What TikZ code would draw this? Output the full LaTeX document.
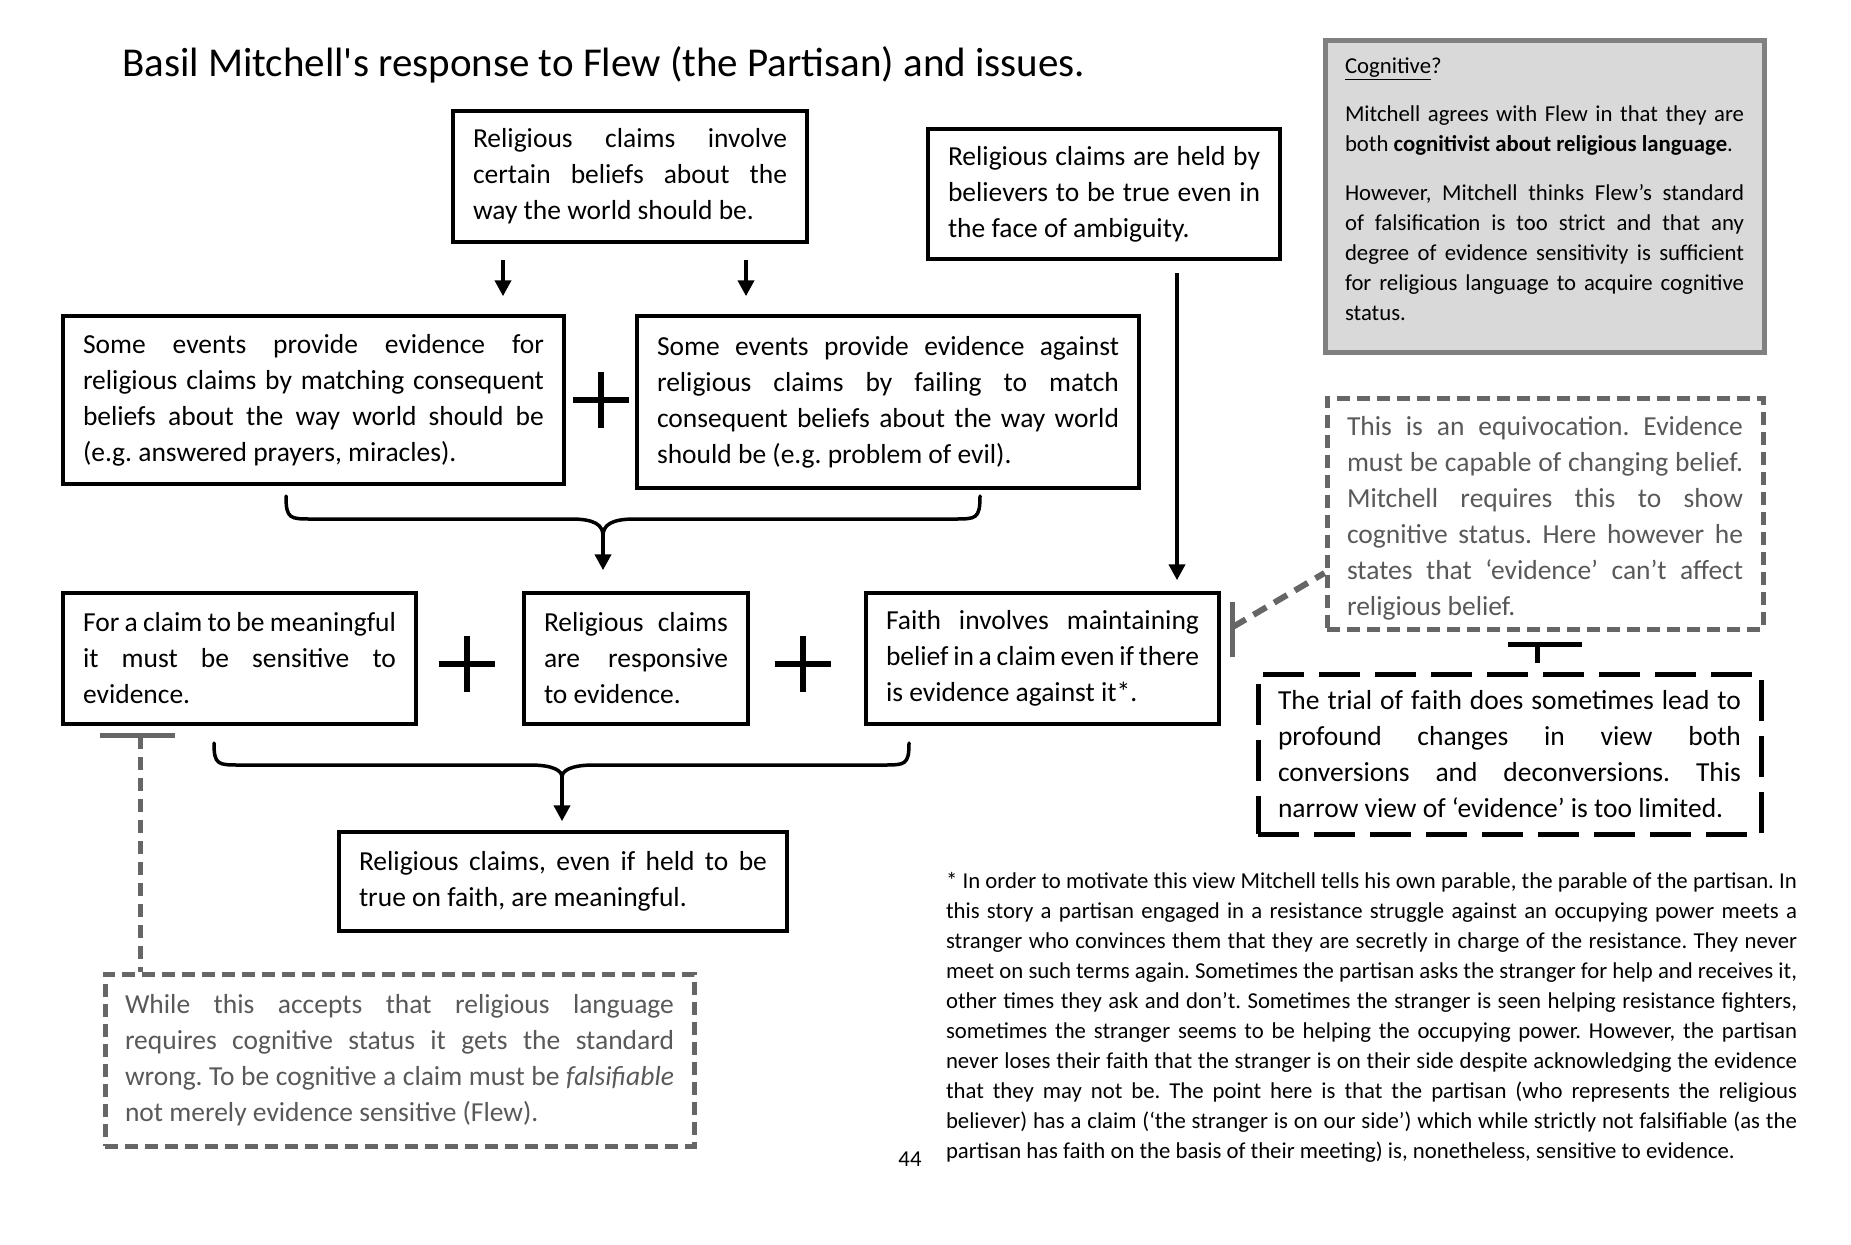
\documentclass[tikz,border=0pt]{standalone}
\usepackage{fontspec}
\setmainfont{Carlito}
\newfontfamily\titlefont{Carlito}[Ligatures=TeXOff]
\usetikzlibrary{arrows.meta}
\definecolor{gtxt}{HTML}{595959}
\definecolor{gline}{HTML}{666666}
\definecolor{cogfill}{HTML}{D9D9D9}
\definecolor{cogline}{HTML}{808080}
\newcommand{\NS}{\spaceskip=0pt\xspaceskip=0pt\relax}
\newcommand{\J}[1]{\leavevmode\hbox to \hsize{\NS#1}}
\newcommand{\boxfont}{\fontsize{27.5}{36}\selectfont}
\newcommand{\smallfnt}{\fontsize{22.75}{30}\selectfont}
\frenchspacing
\tikzset{
  box/.style={draw=black, line width=3.5pt, inner xsep=20pt, inner ysep=0pt, align=left, font=\boxfont},
  gbox/.style={draw=gline, line width=5pt, dash pattern=on 13pt off 7pt, inner xsep=20pt, inner ysep=0pt, align=left, font=\boxfont, text=gtxt},
  tbox/.style={draw=black, line width=5pt, dash pattern=on 41pt off 15pt, inner xsep=20pt, inner ysep=0pt, align=left, font=\boxfont},
  cogbox/.style={draw=cogline, fill=cogfill, line width=5pt, inner xsep=20pt, inner ysep=0pt, align=left, font=\smallfnt},
  arr/.style={line width=4pt, -{Triangle[width=16pt,length=16pt]}},
  brace/.style={line width=3.5pt, line cap=round},
  plus/.style={line width=5.5pt},
  gl/.style={draw=gline, line width=5pt},
  gdash/.style={draw=gline, line width=5pt, dash pattern=on 13pt off 8pt},
  bl/.style={draw=black, line width=5pt},
}
\begin{document}
\frenchspacing
\begin{tikzpicture}[x=1pt,y=-1pt]
\useasboundingbox[fill=white] (0,0) rectangle (1851,1244);

\node[anchor=base west, inner sep=0pt, font=\titlefont\fontsize{41}{49}\selectfont] (title) at (122,77) {Basil Mitchell's response to Flew (the Partisan) and issues.};

\node[box, minimum width=354pt, minimum height=131pt, text width=314pt] (b1) at (630,176.5)
 {\NS\J{Religious claims involve}\\\J{certain beliefs about the}\\way the world should be.};
\node[box, minimum width=352pt, minimum height=130pt, text width=312pt] (b2) at (1104,194)
 {\NS\J{Religious claims are held by}\\\J{believers to be true even in}\\the face of ambiguity.};
\node[box, minimum width=501pt, minimum height=168pt, text width=461pt] (b4) at (313.5,400)
 {\NS\J{Some events provide evidence for}\\\J{religious claims by matching consequent}\\\J{beliefs about the way world should be}\\(e.g. answered prayers, miracles).};
\node[box, minimum width=502pt, minimum height=172pt, text width=462pt] (b5) at (888,402)
 {\NS\J{Some events provide evidence against}\\\J{religious claims by failing to match}\\\J{consequent beliefs about the way world}\\should be (e.g. problem of evil).};
\node[box, minimum width=353pt, minimum height=131pt, text width=313pt] (c1) at (239.5,658.5)
 {\NS\J{For a claim to be meaningful}\\\J{it must be sensitive to}\\evidence.};
\node[box, minimum width=224pt, minimum height=131pt, text width=184pt] (c2) at (636,658.5)
 {\NS\J{Religious claims}\\\J{are responsive}\\to evidence.};
\node[box, minimum width=353pt, minimum height=131pt, text width=313pt] (c3) at (1042.5,658.5)
 {\NS\J{Faith involves maintaining}\\\J{belief in a claim even if there}\\is evidence against it*.};
\node[box, minimum width=448pt, minimum height=99pt, text width=408pt] (fin) at (563,881.5)
 {\NS\J{Religious claims, even if held to be}\\true on faith, are meaningful.};

\node[cogbox, minimum width=439pt, minimum height=311pt, text width=399pt, text height=0pt, text depth=245pt] (cog) at (1544.5,196.5)
 {\NS\underline{Cognitive}?\par\vspace{18pt}
  \J{Mitchell agrees with Flew in that they are}\\both \textbf{cognitivist about religious language}.\par\vspace{19pt}
  \J{However, Mitchell thinks Flew’s standard}\\\J{of falsification is too strict and that any}\\\J{degree of evidence sensitivity is sufficient}\\\J{for religious language to acquire cognitive}\\status.};

\node[gbox, minimum width=436pt, minimum height=231pt, text width=396pt, text height=0pt, text depth=157pt] (eq) at (1545,513.5)
 {\NS\J{This is an equivocation. Evidence}\\\J{must be capable of changing belief.}\\\J{Mitchell requires this to show}\\\J{cognitive status. Here however he}\\\J{states that ‘evidence’ can’t affect}\\religious belief.};
\node[tbox, minimum width=503pt, minimum height=160pt, text width=463pt] (trial) at (1509.5,754)
 {\NS\J{The trial of faith does sometimes lead to}\\\J{profound changes in view both}\\\J{conversions and deconversions. This}\\narrow view of ‘evidence’ is too limited.};
\node[gbox, minimum width=589pt, minimum height=172pt, text width=549pt] (while) at (399.5,1060)
 {\NS\J{While this accepts that religious language}\\\J{requires cognitive status it gets the standard}\\\J{wrong. To be cognitive a claim must be \textit{falsifiable}}\\not merely evidence sensitive (Flew).};

\node[inner sep=0pt, text width=851pt, align=left, font=\smallfnt] (note) at (1371.5,1017)
 {\NS\J{* In order to motivate this view Mitchell tells his own parable, the parable of the partisan. In}\\
  \J{this story a partisan engaged in a resistance struggle against an occupying power meets a}\\
  \J{stranger who convinces them that they are secretly in charge of the resistance. They never}\\
  \J{meet on such terms again. Sometimes the partisan asks the stranger for help and receives it,}\\
  \J{other times they ask and don’t. Sometimes the stranger is seen helping resistance fighters,}\\
  \J{sometimes the stranger seems to be helping the occupying power. However, the partisan}\\
  \J{never loses their faith that the stranger is on their side despite acknowledging the evidence}\\
  \J{that they may not be. The point here is that the partisan (who represents the religious}\\
  \J{believer) has a claim (‘the stranger is on our side’) which while strictly not falsifiable (as the}\\
  partisan has faith on the basis of their meeting) is, nonetheless, sensitive to evidence.};
\node[inner sep=0pt, font=\smallfnt] (page) at (910,1159) {44};

% arrows from b1
\draw[arr, shorten <=16pt, shorten >=18pt] ([xshift=-127pt]b1.south) -- ([xshift=189.5pt]b4.north);
\draw[arr, shorten <=16pt, shorten >=18pt] ([xshift=116pt]b1.south) -- ([xshift=-142pt]b5.north);
% long arrow
\draw[arr, shorten <=12pt, shorten >=11pt] ([xshift=73pt]b2.south) -- ([xshift=134.5pt]c3.north);

% plus signs
\draw[plus] (601,372) -- (601,428) (573,400) -- (629,400);
\draw[plus] (467,636) -- (467,692) (439,664) -- (495,664);
\draw[plus] (803,636) -- (803,692) (775,664) -- (831,664);

% brace 1
\coordinate (tip1) at (603,536);
\draw[brace] (286,496) .. controls (286,519) and (290,519) .. (312,519) -- (571,519)
  .. controls (595,519) and (603,525) .. (tip1)
  .. controls (603,525) and (611,519) .. (635,519) -- (954,519)
  .. controls (976,519) and (980,519) .. (980,496);
\draw[arr] (tip1) -- ([xshift=-33pt,yshift=21pt]c2.north);

% brace 2
\coordinate (tip2) at (562,777);
\draw[brace] (214,743) .. controls (214,765) and (218,765) .. (240,765) -- (530,765)
  .. controls (554,765) and (562,771) .. (tip2)
  .. controls (562,771) and (570,765) .. (594,765) -- (883,765)
  .. controls (905,765) and (909,765) .. (909,743);
\draw[arr] (tip2) -- ([xshift=-1pt,yshift=9pt]fin.north);

% grey connector from faith box to equivocation box
\coordinate (gb) at ([xshift=12pt,yshift=31.5pt]c3.east);
\draw[gl] ([yshift=25pt]gb) -- ([yshift=-30pt]gb);
\draw[gl, line width=6pt, dash pattern=on 15pt off 9pt] (gb) -- ([yshift=-59.5pt]eq.west);

% black T between equivocation and trial boxes
\coordinate (tt) at ([xshift=-8pt,yshift=-13pt]eq.south);
\draw[bl] ([xshift=-29pt]tt) -- ([xshift=45pt]tt);
\draw[bl, shorten >=9pt] (tt) -- (tt |- trial.north);

% grey T from "for a claim" box down to "while" box
\coordinate (lt) at ([xshift=-99.5pt,yshift=-10pt]c1.south);
\draw[gl] ([xshift=-40pt]lt) -- ([xshift=35pt]lt);
\draw[gdash] (lt) -- (lt |- while.north);
\end{tikzpicture}
\end{document}
